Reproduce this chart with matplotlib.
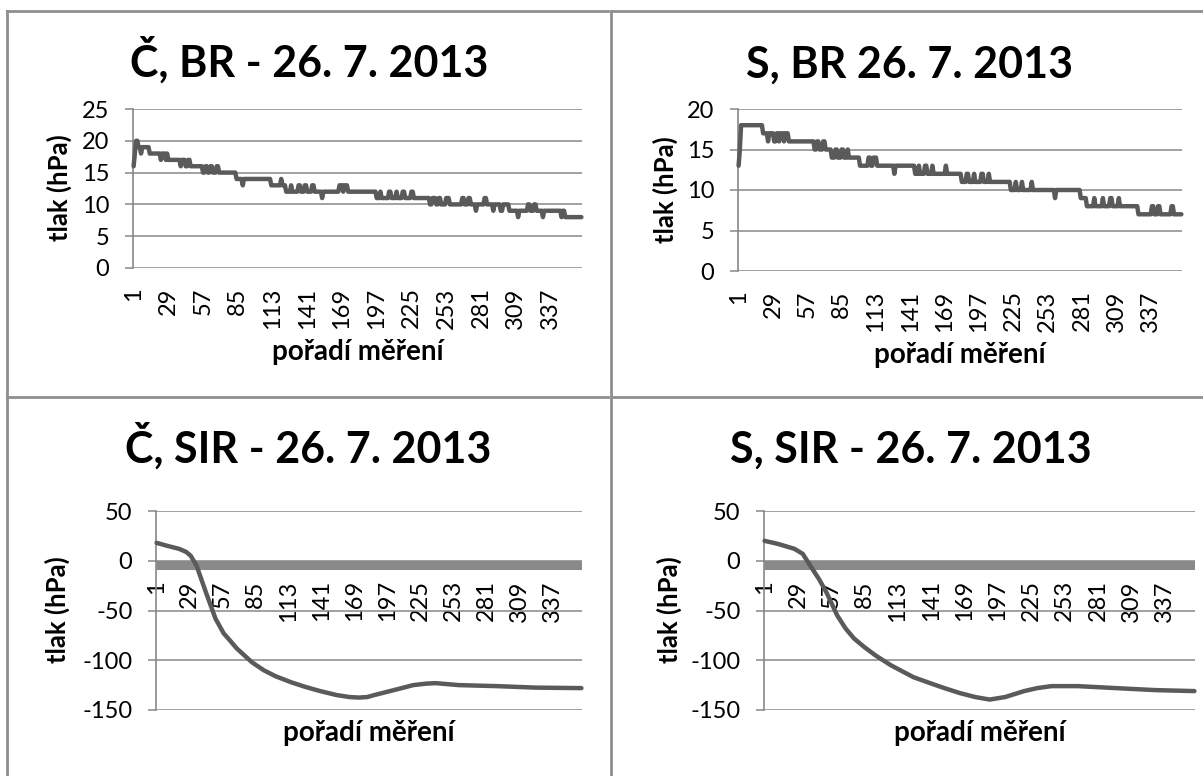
import numpy as np
import matplotlib
matplotlib.use('Agg')
import matplotlib.pyplot as plt
from matplotlib.lines import Line2D
from matplotlib.transforms import ScaledTranslation

plt.rcParams['font.family'] = ['Lato', 'DejaVu Sans']
plt.rcParams['axes.unicode_minus'] = False

# --- data -----------------------------------------------------------------
# BR charts: pressure is stepwise (integer hPa), stored as run lengths
c_br_values = [16, 18, 20, 19, 18, 19, 18, 17, 18, 17, 18, 17, 16, 17, 16, 17, 16,
               15, 16, 15, 16, 15, 16, 15, 14, 13, 14, 13, 14, 13, 12, 13, 12, 13,
               12, 13, 12, 13, 12, 11, 12, 13, 12, 13, 12, 11, 12, 11, 12, 11, 12,
               11, 12, 11, 12, 11, 10, 11, 10, 11, 10, 11, 10, 11, 10, 11, 10, 9,
               10, 11, 10, 9, 10, 9, 10, 9, 8, 9, 10, 9, 10, 9, 8, 9, 8, 9, 8]
c_br_counts = [1, 1, 2, 2, 1, 6, 9, 1, 3, 1, 1, 10, 1, 3, 2, 2, 10,
               2, 2, 2, 2, 3, 2, 14, 5, 1, 22, 8, 1, 3, 4, 1, 5, 2,
               3, 2, 4, 2, 6, 1, 13, 3, 1, 3, 23, 3, 1, 6, 2, 4, 1,
               4, 2, 5, 2, 13, 2, 3, 2, 2, 4, 3, 10, 2, 3, 2, 4, 1,
               6, 2, 5, 1, 5, 2, 5, 7, 1, 7, 2, 3, 2, 5, 1, 14, 1, 2, 14]

s_br_values = [13, 15, 18, 17, 16, 17, 16, 17, 16, 17, 16, 17, 16, 15, 16, 15, 16,
               15, 14, 15, 14, 15, 14, 15, 14, 13, 14, 13, 14, 13, 12, 13, 12, 13,
               12, 13, 12, 13, 12, 13, 12, 11, 12, 11, 12, 11, 12, 11, 12, 11, 10,
               11, 10, 11, 10, 11, 10, 9, 10, 9, 8, 9, 8, 9, 8, 9, 8, 9, 8, 7, 8,
               7, 8, 7, 8, 7]
s_br_counts = [1, 1, 18, 4, 1, 4, 2, 2, 1, 3, 1, 3, 21, 2, 2, 3, 2,
               5, 3, 2, 3, 2, 3, 1, 9, 7, 2, 2, 3, 14, 1, 16, 3, 1,
               4, 2, 4, 1, 10, 1, 12, 4, 2, 4, 1, 5, 2, 4, 1, 17, 4,
               1, 4, 1, 7, 1, 18, 1, 20, 5, 6, 1, 6, 1, 5, 2, 5, 1, 15, 11, 2,
               3, 2, 9, 2, 7]

# SIR charts: smooth curves
c_sir_idx = [1, 10, 20, 26, 30, 35, 43, 51, 58, 64, 69, 82, 92, 102, 115, 128,
             140, 154, 165, 173, 180, 186, 196, 206, 219, 230, 238, 258, 290, 323, 362]
c_sir_val = [18, 15, 12, 9, 5, -5, -32, -58, -73, -81, -88, -102, -110, -116, -122,
             -127, -131, -135, -137, -137.5, -137, -135, -132, -129, -125, -123.5,
             -123, -125, -126, -127.5, -128]

s_sir_idx = [1, 12, 26, 33, 41, 47, 53, 62, 69, 76, 85, 94, 107, 126, 140, 152,
             165, 178, 190, 203, 211, 219, 230, 242, 264, 296, 329, 362]
s_sir_val = [20, 17, 12, 7, -8, -19, -32, -55, -68, -78, -87, -95, -105, -117, -123,
             -128, -133, -137, -139.5, -137, -134, -131, -128, -126, -126, -128,
             -130, -131]

n_points = 362
x_ticks = [1, 29, 57, 85, 113, 141, 169, 197, 225, 253, 281, 309, 337]

titles = ['Č, BR - 26. 7. 2013', 'S, BR 26. 7. 2013',
          'Č, SIR - 26. 7. 2013', 'S, SIR - 26. 7. 2013']
y_label = 'tlak (hPa)'
x_label = 'pořadí měření'

# --- figure ---------------------------------------------------------------
W, H = 1203, 776
fig = plt.figure(figsize=(W / 100, H / 100), dpi=100)

GRID = '#878787'
LINE = '#5a5a5a'
BAR = '#898989'
TICK_SIZE = 17
TITLE_SIZE = 31


def px_rect(l, t, r, b):
    return [l / W, 1 - b / H, (r - l) / W, (b - t) / H]


def draw_panel(ax, x, y, ylim, yticks, title, title_xy, ylab_xy, xlab_y):
    ax.set_xlim(0.5, n_points + 0.5)
    ax.set_ylim(*ylim)
    ax.set_yticks(yticks)
    ax.set_xticks(x_ticks)
    ax.set_xticklabels([str(t) for t in x_ticks])
    ax.yaxis.grid(True, color=GRID, lw=1.1)
    for side in ['top', 'right', 'bottom']:
        ax.spines[side].set_visible(False)
    ax.spines['left'].set_color(GRID)
    ax.spines['left'].set_linewidth(1.2)
    ax.spines['bottom'].set_position(('data', 0))
    ax.tick_params(axis='y', length=6, width=1.1, color=GRID,
                   labelsize=TICK_SIZE, pad=11)
    ax.tick_params(axis='x', length=0, labelsize=TICK_SIZE, pad=14,
                   labelrotation=90)

    # thick category axis bar hanging just below zero
    trans = ax.get_yaxis_transform() + ScaledTranslation(0, -4.5 / 100, fig.dpi_scale_trans)
    ax.plot([0, 1], [0, 0], transform=trans, color=BAR, lw=6.5,
            solid_capstyle='butt', zorder=2)

    ax.plot(x, y, color=LINE, lw=3.2, solid_joinstyle='round',
            solid_capstyle='round', zorder=3, clip_on=False)

    fig.text(title_xy[0] / W, 1 - title_xy[1] / H, title, fontsize=TITLE_SIZE,
             fontweight='bold', ha='center', va='baseline')
    fig.text(ylab_xy[0] / W, 1 - ylab_xy[1] / H, y_label, fontsize=18.5,
             fontweight='bold', rotation=90, ha='center', va='center')
    pos = ax.get_position()
    fig.text(pos.x0 + pos.width / 2, 1 - xlab_y / H, x_label, fontsize=20,
             fontweight='bold', ha='center', va='center')


idx = np.arange(1, n_points + 1)

ax1 = fig.add_axes(px_rect(133, 109, 582, 268))
draw_panel(ax1, idx, np.repeat(c_br_values, c_br_counts), (0, 25), range(0, 26, 5),
           titles[0], (309, 77), (59, 188), 352)

ax2 = fig.add_axes(px_rect(738, 109, 1182, 271))
draw_panel(ax2, idx, np.repeat(s_br_values, s_br_counts), (0, 20), range(0, 21, 5),
           titles[1], (910, 78), (665, 190), 355)

ax3 = fig.add_axes(px_rect(156, 511, 582, 710))
draw_panel(ax3, c_sir_idx, c_sir_val, (-150, 50), range(-150, 51, 50),
           titles[2], (308, 463), (57, 610), 733)

ax4 = fig.add_axes(px_rect(764, 511, 1195, 710))
draw_panel(ax4, s_sir_idx, s_sir_val, (-150, 50), range(-150, 51, 50),
           titles[3], (911, 463), (669, 610), 733)

# panel frames
BORDER = '#8e8e8e'
frame_lines = [((7, 608), (11, 11)), ((612, 1203), (11, 11)),
               ((7, 608), (397, 397)), ((612, 1203), (397, 397)),
               ((7, 7), (11, 776)), ((611, 611), (11, 776))]
for xs, ys in frame_lines:
    fig.add_artist(Line2D([v / W for v in xs], [1 - v / H for v in ys],
                          color=BORDER, lw=2, transform=fig.transFigure))

fig.savefig('out.png', dpi=100)
